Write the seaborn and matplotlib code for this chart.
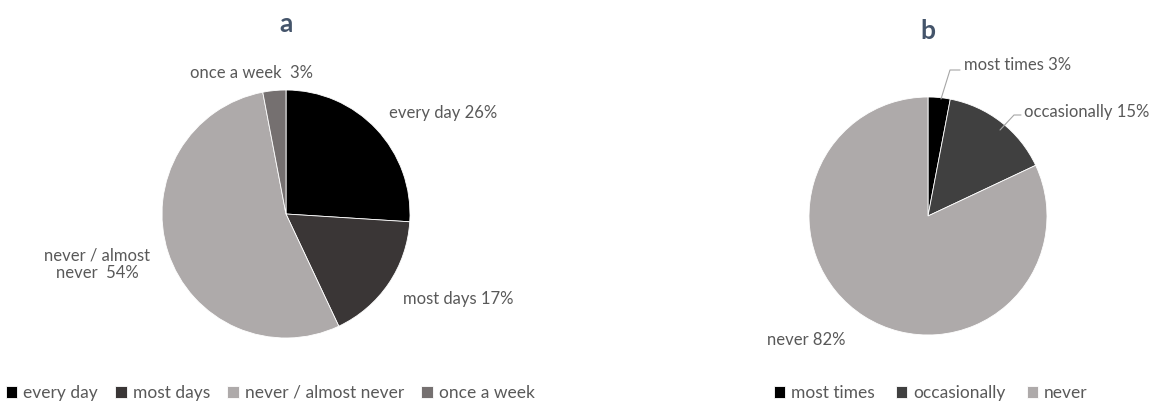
import matplotlib
matplotlib.use("Agg")
import matplotlib.pyplot as plt
import seaborn as sns

sns.set_theme(style="white")
plt.rcParams['font.family'] = ['Lato', 'DejaVu Sans']

# Data
a_categories = ["every day", "most days", "never / almost never", "once a week"]
a_values = [26, 17, 54, 3]
a_labels = ["every day 26%", "most days 17%", "never / almost\nnever  54%", "once a week  3%"]
a_colors = ["#000000", "#3a3636", "#aeaaaa", "#757070"]

b_categories = ["most times", "occasionally", "never"]
b_values = [3, 15, 82]
b_labels = ["most times 3%", "occasionally 15%", "never 82%"]
b_colors = ["#000000", "#404040", "#aeaaaa"]

W, H = 1157, 409
fig = plt.figure(figsize=(W / 100, H / 100), dpi=100)
text_color = "#595959"
title_color = "#44546a"


def pie_axes(cx, cy, r):
    ax = fig.add_axes([(cx - r) / W, 1 - (cy + r) / H, 2 * r / W, 2 * r / H])
    return ax


def fix_axes(ax):
    ax.set_xlim(-1, 1)
    ax.set_ylim(-1, 1)
    ax.set_axis_off()


def to_data(cx, cy, r, px, py):
    return (px - cx) / r, (cy - py) / r


# ---- Chart a ----
cxa, cya, ra = 286, 214, 124
axa = pie_axes(cxa, cya, ra)
wedges_a, _ = axa.pie(a_values, colors=a_colors, startangle=90, counterclock=False,
                      radius=1, wedgeprops=dict(linewidth=0.6, edgecolor="white"))
fix_axes(axa)
a_pos = [(443, 113), (458, 299), (97, 264), (251, 73)]
for lab, (px, py) in zip(a_labels, a_pos):
    x, y = to_data(cxa, cya, ra, px, py)
    axa.text(x, y, lab, ha="center", va="center", fontsize=12, color=text_color,
             clip_on=False, linespacing=1.1)
tx, ty = to_data(cxa, cya, ra, 286, 24)
axa.text(tx, ty, "a", ha="center", va="center", fontsize=19, fontweight="bold",
         color=title_color, clip_on=False)

# ---- Chart b ----
cxb, cyb, rb = 928, 216, 119
axb = pie_axes(cxb, cyb, rb)
wedges_b, _ = axb.pie(b_values, colors=b_colors, startangle=90, counterclock=False,
                      radius=1, wedgeprops=dict(linewidth=0.6, edgecolor="white"))
fix_axes(axb)
b_pos = [(1018, 65), (1087, 112), (806, 340)]
for lab, (px, py) in zip(b_labels, b_pos):
    x, y = to_data(cxb, cyb, rb, px, py)
    axb.text(x, y, lab, ha="center", va="center", fontsize=12, color=text_color,
             clip_on=False)
# leader lines
for pts in [[(941, 99), (950, 70), (960, 70)], [(1000, 130), (1014, 115), (1021, 115)]]:
    xs, ys = zip(*[to_data(cxb, cyb, rb, px, py) for px, py in pts])
    axb.plot(xs, ys, color="#a6a6a6", lw=0.8, clip_on=False)
tx, ty = to_data(cxb, cyb, rb, 928, 31)
axb.text(tx, ty, "b", ha="center", va="center", fontsize=19, fontweight="bold",
         color=title_color, clip_on=False)

# Legends
leg_kw = dict(ncol=4, frameon=False, fontsize=12.5, handlelength=0.65, handleheight=0.65,
              handletextpad=0.35, columnspacing=1.0, labelcolor=text_color,
              borderaxespad=0, borderpad=0)
fig.legend(wedges_a, a_categories, loc="center left",
           bbox_to_anchor=(6 / W, 1 - 393 / H), **leg_kw)
leg_kw["ncol"] = 3
leg_kw["columnspacing"] = 1.2
fig.legend(wedges_b, b_categories, loc="center left",
           bbox_to_anchor=(774 / W, 1 - 393 / H), **leg_kw)

fig.savefig("out.png", dpi=100)
